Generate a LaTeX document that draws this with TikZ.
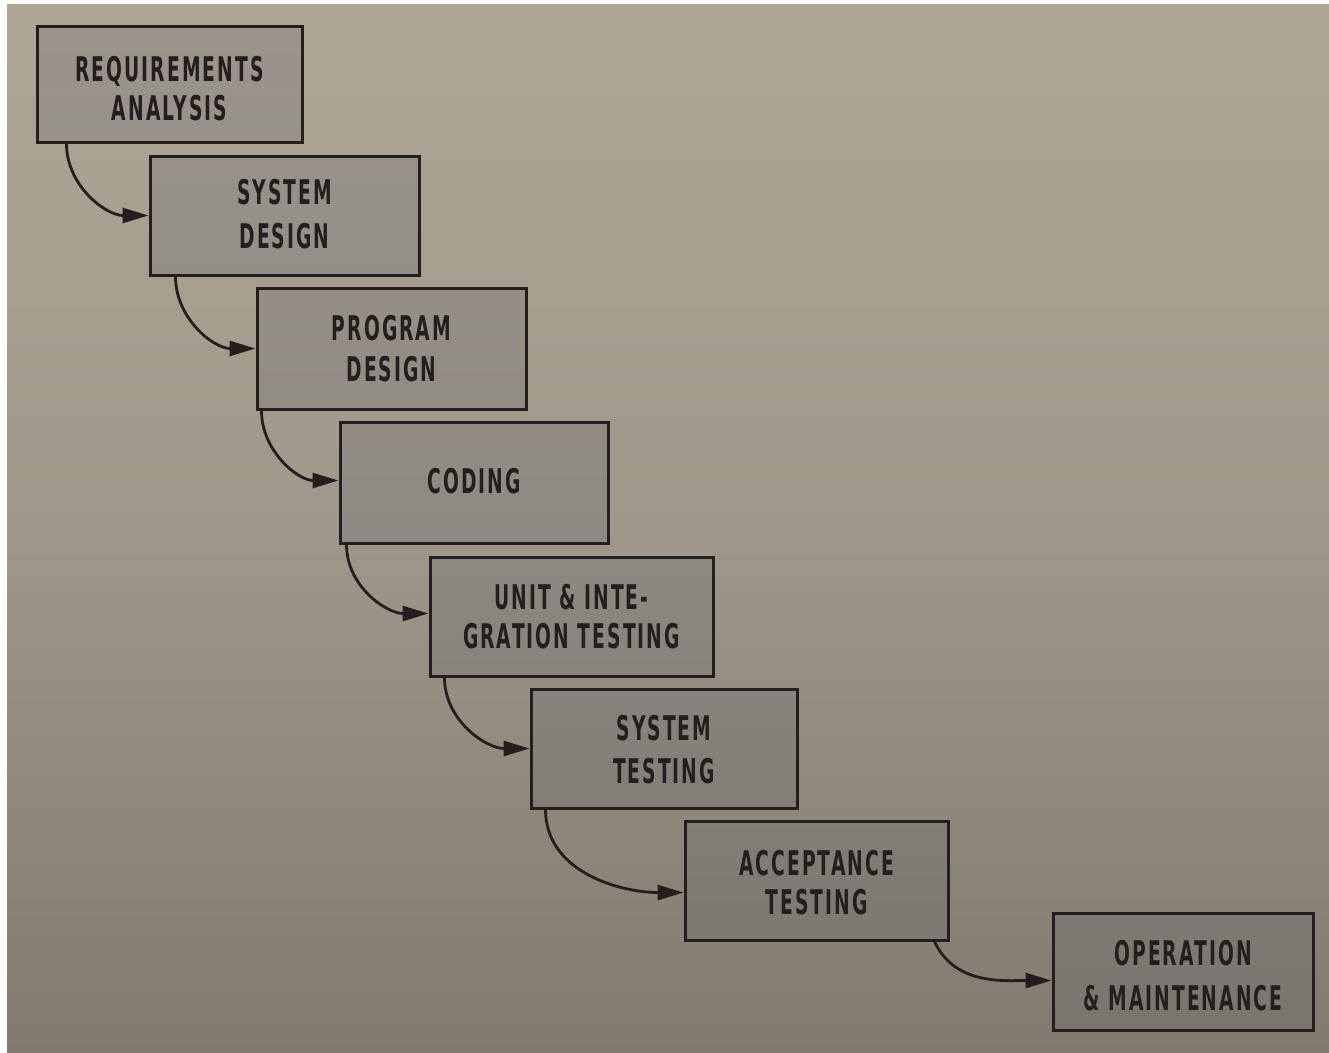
\documentclass[tikz,border=0pt]{standalone}
\usepackage{fontspec}
\usetikzlibrary{arrows.meta}
\newfontfamily\stagefont[FakeStretch=0.55,LetterSpace=6]{DejaVu Sans}
\definecolor{pagetop}{RGB}{176,166,151}
\definecolor{pagemid}{RGB}{160,151,138}
\definecolor{pagebot}{RGB}{130,122,110}
\definecolor{ink}{RGB}{36,31,30}
\definecolor{boxtint}{RGB}{92,98,110}
\tikzset{
  stage/.style={draw=ink, line width=3pt, fill=boxtint, fill opacity=0.25,
    text opacity=1, text=ink, inner sep=0pt, align=center,
    font=\stagefont\bfseries\fontsize{34}{41}\selectfont},
  flow/.style={draw=ink, line width=2.8pt,
    -{Triangle[length=26pt,width=15pt]}}
}
% invisible struts that nudge a label up or down inside its box
\newcommand{\lowerby}[1]{\rule{0pt}{\dimexpr 24.8pt+2\dimexpr#1\relax\relax}}
\newcommand{\raiseby}[1]{\rule[-2\dimexpr#1\relax]{0pt}{0pt}}
\begin{document}
\begin{tikzpicture}[x=1pt,y=-1pt]
  \useasboundingbox (0,0) rectangle (1329,1052);
  \fill[white] (0,0) rectangle (1329,1052);
  \shade[top color=pagetop, bottom color=pagebot, middle color=pagemid]
    (7,4) rectangle (1329,1052);

  % waterfall stages
  \node[stage, minimum width=265pt, minimum height=116pt] (req) at (169.5,84)
    {\lowerby{5pt}REQUIREMENTS\\[-2pt]ANALYSIS};
  \node[stage, minimum width=269pt, minimum height=119pt] (sysd) at (284.5,215.5)
    {SYSTEM\\[3pt]DESIGN\raiseby{2pt}};
  \node[stage, minimum width=269pt, minimum height=121pt] (prog) at (391.5,348.5)
    {PROGRAM\\DESIGN};
  \node[stage, minimum width=268pt, minimum height=121pt] (code) at (474,482.5)
    {CODING\raiseby{2pt}};
  \node[stage, minimum width=283pt, minimum height=119pt] (unit) at (571.5,616.5)
    {UNIT \& INTE-\\[-2pt]GRATION TESTING};
  \node[stage, minimum width=266pt, minimum height=119pt] (syst) at (664,748.5)
    {\lowerby{1pt}SYSTEM\\[2pt]TESTING};
  \node[stage, minimum width=263pt, minimum height=119pt] (acc) at (816.5,880.5)
    {\lowerby{2pt}ACCEPTANCE\\[-2pt]TESTING};
  \node[stage, minimum width=260pt, minimum height=117pt] (ops) at (1183,971.5)
    {\lowerby{4pt}OPERATION\\[4pt]\& MAINTENANCE};

  % connectors between consecutive stages
  \draw[flow] ([xshift=31pt]req.south west) to[out=-90,in=180] (sysd.west);
  \draw[flow] ([xshift=27pt]sysd.south west) to[out=-90,in=180] (prog.west);
  \draw[flow] ([xshift=6pt]prog.south west) to[out=-90,in=180] ([yshift=2pt]code.west);
  \draw[flow] ([xshift=8pt]code.south west) to[out=-90,in=180] ([yshift=3pt]unit.west);
  \draw[flow] ([xshift=16pt]unit.south west) to[out=-90,in=180] (syst.west);
  \draw[flow] ([xshift=16pt]syst.south west) to[out=-90,in=180] ([yshift=-12pt]acc.west);
  \draw[flow] ([xshift=-15pt]acc.south east) to[out=-65,in=180] ([yshift=-9pt]ops.west);
\end{tikzpicture}
\end{document}
